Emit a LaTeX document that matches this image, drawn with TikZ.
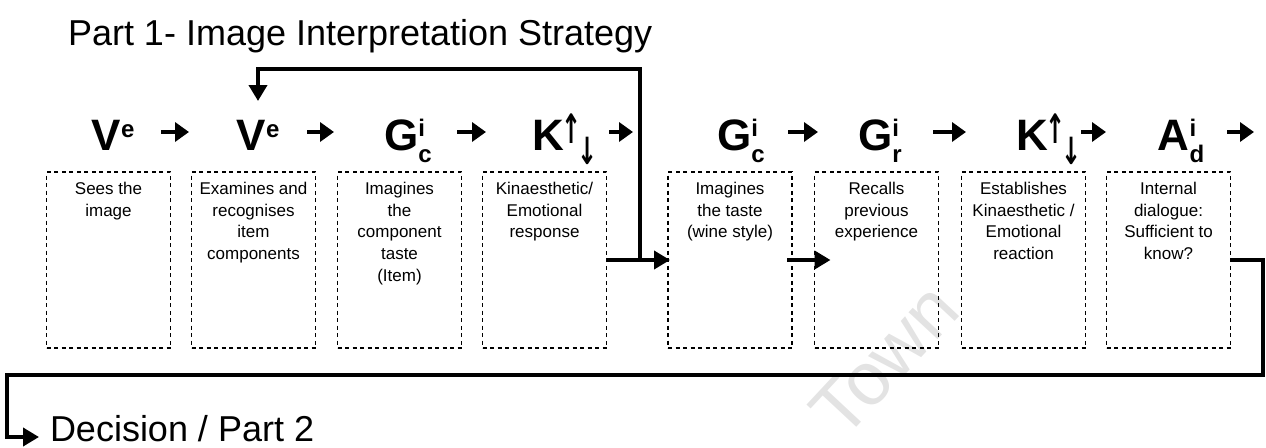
\documentclass[tikz,border=0pt]{standalone}
\usepackage{fontspec}
\setmainfont{Liberation Sans}
\newfontfamily\arrowfont{DejaVu Sans}
\usetikzlibrary{arrows.meta}

\tikzset{
  every node/.style={inner sep=0pt, outer sep=0pt},
  heading/.style={font=\fontsize{36}{40}\selectfont, anchor=base west},
  symbol/.style={font=\fontsize{44}{44}\selectfont\bfseries, anchor=base},
  stagebox/.style={draw, line width=1.2pt, dash pattern=on 4pt off 3.5pt,
    minimum width=124pt, minimum height=176pt},
  stagetext/.style={font=\fontsize{17}{21.7}\selectfont, align=center, anchor=north},
  flow/.style={line width=4.6pt, -{Triangle[length=14pt,width=19pt]}},
  loopflow/.style={line width=3.8pt, -{Triangle[length=16pt,width=18pt]}},
  watermark/.style={font=\fontsize{75}{75}\selectfont, text=black!11, rotate=47}
}

% raised and lowered parts of the symbols
\newcommand{\supsub}[2]{\rlap{\raisebox{14pt}{\fontsize{24}{24}\selectfont\bfseries #1}}%
  \raisebox{-12pt}{\fontsize{24}{24}\selectfont\bfseries #2}}
\newcommand{\supe}{\raisebox{13pt}{\fontsize{24}{24}\selectfont\bfseries e}}
\newcommand{\updown}{\kern-2pt\raisebox{7pt}{\scalebox{0.8}[1.35]{\fontsize{30}{30}\arrowfont\bfseries ↑}}%
  \kern-4pt\raisebox{-14pt}{\scalebox{0.8}[1.25]{\fontsize{30}{30}\arrowfont\bfseries ↓}}}

\begin{document}
\begin{tikzpicture}[x=1pt, y=-1pt]
\useasboundingbox (0,0) rectangle (1266,447);

% watermark
\node[watermark] (wm) at (885,360) {Town};

% headings
\node[heading] (title) at (68,45) {Part 1- Image Interpretation Strategy};
\node[heading] (decision) at (50,441) {Decision / Part 2};

% symbol row
\node[symbol] (s1) at (113,150) {V\supe};
\node[symbol] (s2) at (258,150) {V\supe};
\node[symbol] (s3) at (408,150) {G\supsub{i}{c}};
\node[symbol] (s4) at (565,150) {K\updown};
\node[symbol] (s5) at (741,150) {G\supsub{i}{c}};
\node[symbol] (s6) at (880,150) {G\supsub{i}{r}};
\node[symbol] (s7) at (1049,150) {K\updown};
\node[symbol] (s8) at (1181,150) {A\supsub{i}{d}};

% arrows of the symbol row
\coordinate (a1t) at (161,132);  \coordinate (a1h) at (189,132);
\coordinate (a2t) at (307,132);  \coordinate (a2h) at (334,132);
\coordinate (a3t) at (457,132);  \coordinate (a3h) at (486,132);
\coordinate (a4t) at (609,132);  \coordinate (a4h) at (633,132);
\coordinate (a5t) at (788,132);  \coordinate (a5h) at (818,132);
\coordinate (a6t) at (933,132);  \coordinate (a6h) at (966,132);
\coordinate (a7t) at (1081,132); \coordinate (a7h) at (1106,132);
\coordinate (a8t) at (1227,132); \coordinate (a8h) at (1254,132);
\foreach \i in {1,...,8} \draw[flow] (a\i t) -- (a\i h);

% stage boxes
\node[stagebox] (b1) at (108.5,260) {};
\node[stagebox] (b2) at (253.5,260) {};
\node[stagebox] (b3) at (399.5,260) {};
\node[stagebox] (b4) at (544.5,260) {};
\node[stagebox] (b5) at (730,260) {};
\node[stagebox] (b6) at (876.5,260) {};
\node[stagebox] (b7) at (1023.5,260) {};
\node[stagebox] (b8) at (1168.5,260) {};

\node[stagetext] (t1) at ([yshift=-10pt]b1.north) {Sees the\\image};
\node[stagetext] (t2) at ([yshift=-10pt]b2.north) {Examines and\\recognises\\item\\components};
\node[stagetext] (t3) at ([yshift=-10pt]b3.north) {Imagines\\the\\component\\taste\\(Item)};
\node[stagetext] (t4) at ([yshift=-10pt]b4.north) {Kinaesthetic/\\Emotional\\response};
\node[stagetext] (t5) at ([yshift=-10pt]b5.north) {Imagines\\the taste\\(wine style)};
\node[stagetext] (t6) at ([yshift=-10pt]b6.north) {Recalls\\previous\\experience};
\node[stagetext] (t7) at ([yshift=-10pt]b7.north) {Establishes\\Kinaesthetic /\\Emotional\\reaction};
\node[stagetext] (t8) at ([yshift=-10pt]b8.north) {Internal\\dialogue:\\Sufficient to\\know?};

% link from the first strategy to the second, with the feedback loop
\coordinate (jn) at (640,260);
\coordinate (fbtop) at (640,69);
\coordinate (fbtip) at (258,101);
\draw[loopflow] (b4.east) -- ([xshift=2pt]b5.west);
\draw[loopflow] (jn) -- (fbtop) -- (fbtip |- fbtop) -- (fbtip);

% link inside the second strategy
\draw[loopflow] ([xshift=-5pt]b5.east) -- ([xshift=16pt]b6.west);

% exit to the decision
\coordinate (c1) at (1263,260);
\coordinate (c2) at (1263,375);
\coordinate (c3) at (7,375);
\coordinate (c4) at (7,437);
\draw[loopflow] (b8.east) -- (c1) -- (c2) -- (c3) -- (c4)
  -- ([xshift=-11pt]decision.base west |- c4);
\end{tikzpicture}
\end{document}
